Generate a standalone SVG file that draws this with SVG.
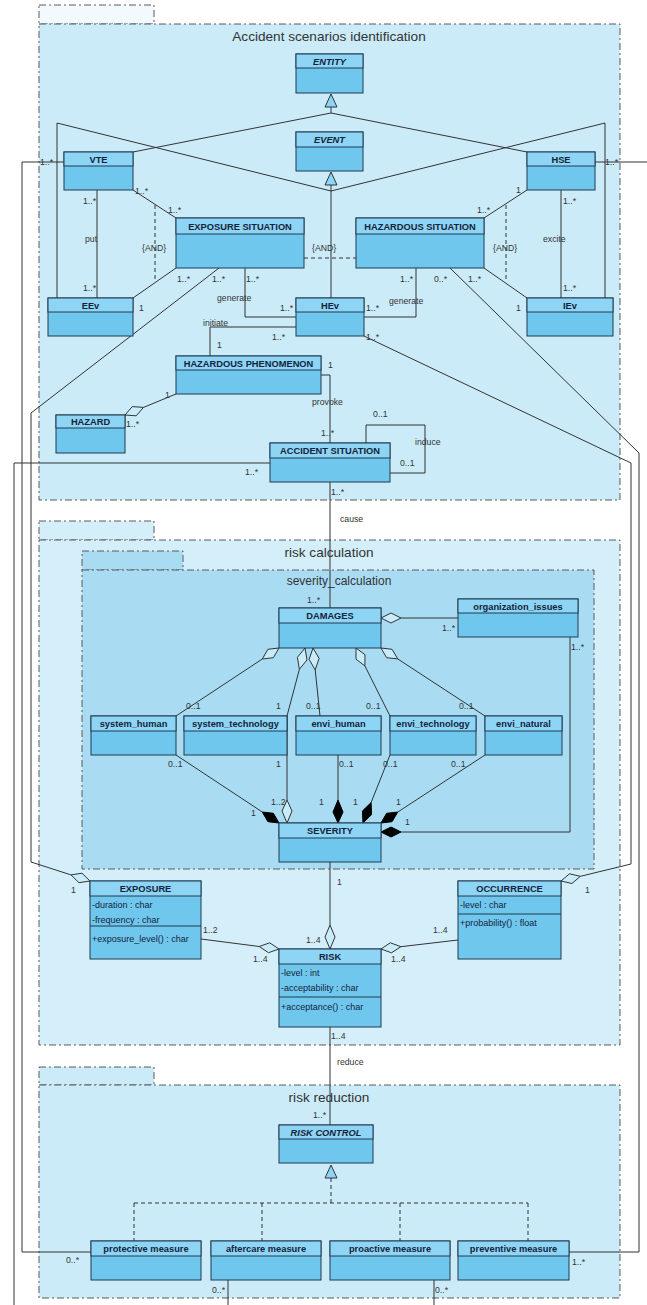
<svg xmlns="http://www.w3.org/2000/svg" width="647" height="1305" viewBox="0 0 647 1305">
<style>
.pk{fill:#cbebf9;stroke:#5a5a5a;stroke-width:1;stroke-dasharray:7,3,2,3}
.pk2{fill:#d4effa;stroke:#5a5a5a;stroke-width:1;stroke-dasharray:7,3,2,3}
.pki{fill:#a9dcf3;stroke:#5a5a5a;stroke-width:1;stroke-dasharray:7,3,2,3}
.pt{font-family:'Liberation Sans',Arial,sans-serif;font-size:13.6px;fill:#333;text-anchor:middle}
.b{fill:#70c7ee;stroke:#1f3a50;stroke-width:1}
.h{fill:#8ed5f5;stroke:#1f3a50;stroke-width:1}
.n{font-family:'Liberation Sans',Arial,sans-serif;font-size:9.3px;font-weight:bold;fill:#14233a;text-anchor:middle}
.ni{font-family:'Liberation Sans',Arial,sans-serif;font-size:9.3px;font-weight:bold;font-style:italic;fill:#14233a;text-anchor:middle}
.a{font-family:'Liberation Sans',Arial,sans-serif;font-size:9px;fill:#14233a}
.l{font-family:'Liberation Sans',Arial,sans-serif;font-size:8.7px;fill:#333}
.c{fill:none;stroke:#333;stroke-width:1}
.d{fill:none;stroke:#333;stroke-width:1;stroke-dasharray:4,3}
.hd{fill:#c8ecfa;stroke:#333;stroke-width:1}
.fd{fill:#000;stroke:#000;stroke-width:1}
.tri{fill:#8ed5f5;stroke:#333;stroke-width:1}
</style>

<g id="packages">
<rect class="pk" x="39" y="5" width="115" height="19" style="fill:#f3fafd"/>
<rect class="pk" x="39" y="24" width="581" height="476"/>
<text class="pt" x="329" y="41">Accident scenarios identification</text>
<rect class="pk2" x="39" y="521" width="115" height="19"/>
<rect class="pk2" x="39" y="540" width="581" height="505"/>
<text class="pt" x="329" y="557">risk calculation</text>
<rect class="pki" x="82" y="551" width="101" height="19"/>
<rect class="pki" x="82" y="570" width="512" height="299"/>
<text class="pt" x="339" y="585" style="font-size:12px">severity_calculation</text>
<rect class="pk" x="39" y="1067" width="115" height="18"/>
<rect class="pk" x="39" y="1085" width="581" height="213"/>
<text class="pt" x="329" y="1102">risk reduction</text>
</g>

<g id="connectors">
<polygon class="tri" points="331,94 337,107 325,107"/>
<path class="c" d="M331,107 V113 M133,152 L331,113 L527,152"/>
<polygon class="tri" points="331,172 337,185 325,185"/>
<path class="c" d="M331,185 V298 M57,298 V123 L331,191 L605,123 V298"/>
<path class="c" d="M97,190 V298 M561,190 V298 M133,190 L176,218 M527,190 L484,218 M176,268 L133,298 M484,268 L527,298"/>
<path class="c" d="M219,268 L31,413 V862 L71,874.9"/>
<path class="c" d="M245,268 V317 H296 M416,268 V317 H364 M296,327 H210 V356"/>
<path class="c" d="M176,394 L143.5,407.4 M321,375 H330 V443 M366,443 V425 H425 V473 H390 M330,482 V608"/>
<path class="c" d="M270,463 H14 V1305 M64,162 H22 V1252 H91 M595,162 H647"/>
<path class="c" d="M364,336 L631,463 V864 L580.4,876.3 M450,268 L639,453 V1252 H569"/>
<path class="d" d="M155,205 V282 M506,205 V282 M304,258 H356"/>
<polygon class="hd" points="125,415 136.2,415.8 143.5,407.4 132.3,406.6"/>
<path class="c" d="M458,618 H401 M570,637 V832 H401"/>
<polygon class="hd" points="381,618 391,613 401,618 391,623"/>
<polygon class="hd" points="279,648 273.4,657.7 262.3,659 267.9,649.3"/>
<polygon class="hd" points="305,648 307,659.9 299.4,669.3 297.4,657.3"/>
<polygon class="hd" points="313,648 319.1,658.4 315.2,669.9 309.1,659.4"/>
<polygon class="hd" points="356,648 365,654.7 364.9,665.9 356,659.2"/>
<polygon class="hd" points="381,648 392.1,649.3 397.7,658.9 386.6,657.7"/>
<path class="c" d="M262.3,659 L176,716 M299.4,669.3 L287,716 V800 M315.2,669.9 L320,716 M364.9,665.9 L390,716 M397.7,658.9 L485,716"/>
<path class="c" d="M176,755 L262.3,812 M338,755 V800 M390,755 L371.1,802.6 M485,755 L397.7,812.1"/>
<polygon class="fd" points="279,823 273.4,813.3 262.3,812 267.9,821.7"/>
<polygon class="hd" points="287,823 292,811 287,800 282,811"/>
<polygon class="fd" points="338,823 343,812 338,800 333,812"/>
<polygon class="fd" points="363,823 371.6,814.6 371.1,802.6 362.4,811"/>
<polygon class="fd" points="381,823 392.1,821.7 397.7,812.1 386.6,813.3"/>
<polygon class="fd" points="381,832 391,827 401,832 391,837"/>
<path class="c" d="M330,862 V925 M201,939 L259.2,946.5 M458,940 L400.9,946.7 M330,1027 V1125"/>
<polygon class="hd" points="330,949 335,937 330,925 325,937"/>
<polygon class="hd" points="279,949 269.7,942.8 259.2,946.5 268.5,952.7"/>
<polygon class="hd" points="381,949 391.5,952.8 400.9,946.7 390.3,942.8"/>
<polygon class="hd" points="90,881 82,873.2 71,874.9 79,882.7"/>
<polygon class="hd" points="561,881 571.9,883.5 580.4,876.3 569.5,873.8"/>
<polygon class="tri" points="331,1165 337,1178 325,1178"/>
<path class="d" d="M331,1178 V1203 M134,1203 H528 M134,1203 V1241 M262,1203 V1241 M400,1203 V1241 M528,1203 V1241"/>
<path class="c" d="M228,1280 V1305 M434,1280 V1305"/>
</g>

<g id="labels">
<text class="l" x="40" y="165">1..*</text>
<text class="l" x="83" y="204">1..*</text>
<text class="l" x="135" y="194">1..*</text>
<text class="l" x="168" y="213">1..*</text>
<text class="l" x="85" y="242">put</text>
<text class="l" x="142" y="251">{AND}</text>
<text class="l" x="83" y="291">1..*</text>
<text class="l" x="139" y="311">1</text>
<text class="l" x="177" y="282">1..*</text>
<text class="l" x="212" y="282">1..*</text>
<text class="l" x="246" y="282">1..*</text>
<text class="l" x="217" y="301">generate</text>
<text class="l" x="280" y="311">1..*</text>
<text class="l" x="203" y="326">initiate</text>
<text class="l" x="272" y="340">1..*</text>
<text class="l" x="217" y="348">1</text>
<text class="l" x="312" y="251">{AND}</text>
<text class="l" x="328" y="368">1</text>
<text class="l" x="165" y="398">1</text>
<text class="l" x="126" y="427">1..*</text>
<text class="l" x="312" y="405">provoke</text>
<text class="l" x="321" y="436">1..*</text>
<text class="l" x="373" y="417">0..1</text>
<text class="l" x="415" y="445">induce</text>
<text class="l" x="400" y="466">0..1</text>
<text class="l" x="245" y="475">1..*</text>
<text class="l" x="331" y="495">1..*</text>
<text class="l" x="340" y="522">cause</text>
<text class="l" x="307" y="603">1..*</text>
<text class="l" x="477" y="213">1..*</text>
<text class="l" x="516" y="193">1</text>
<text class="l" x="605" y="165">1..*</text>
<text class="l" x="563" y="204">1..*</text>
<text class="l" x="543" y="242">excite</text>
<text class="l" x="493" y="251">{AND}</text>
<text class="l" x="563" y="291">1..*</text>
<text class="l" x="516" y="311">1</text>
<text class="l" x="400" y="282">1..*</text>
<text class="l" x="434" y="282">0..*</text>
<text class="l" x="468" y="282">1..*</text>
<text class="l" x="366" y="311">1..*</text>
<text class="l" x="389" y="304">generate</text>
<text class="l" x="366" y="340">1..*</text>
<text class="l" x="442" y="631">1..*</text>
<text class="l" x="571" y="650">1..*</text>
<text class="l" x="186" y="709">0..1</text>
<text class="l" x="276" y="709">1</text>
<text class="l" x="306" y="709">0..1</text>
<text class="l" x="366" y="709">0..1</text>
<text class="l" x="459" y="709">0..1</text>
<text class="l" x="168" y="767">0..1</text>
<text class="l" x="276" y="767">1</text>
<text class="l" x="339" y="767">0..1</text>
<text class="l" x="383" y="767">0..1</text>
<text class="l" x="451" y="767">0..1</text>
<text class="l" x="251" y="816">1</text>
<text class="l" x="271" y="805">1..2</text>
<text class="l" x="319" y="805">1</text>
<text class="l" x="353" y="805">1</text>
<text class="l" x="396" y="805">1</text>
<text class="l" x="405" y="825">1</text>
<text class="l" x="337" y="885">1</text>
<text class="l" x="71" y="893">1</text>
<text class="l" x="585" y="893">1</text>
<text class="l" x="203" y="933">1..2</text>
<text class="l" x="253" y="962">1..4</text>
<text class="l" x="306" y="943">1..4</text>
<text class="l" x="433" y="933">1..4</text>
<text class="l" x="391" y="962">1..4</text>
<text class="l" x="331" y="1039">1..4</text>
<text class="l" x="337" y="1065">reduce</text>
<text class="l" x="313" y="1118">1..*</text>
<text class="l" x="66" y="1263">0..*</text>
<text class="l" x="212" y="1293">0..*</text>
<text class="l" x="435" y="1293">0..*</text>
<text class="l" x="572" y="1265">1..*</text>
</g>

<g id="entity"><rect class="b" x="296" y="54" width="67" height="39"/><rect class="h" x="296" y="54" width="67" height="14"/><text class="ni" x="329.5" y="64.5">ENTITY</text></g>
<g id="event"><rect class="b" x="296" y="132" width="67" height="39"/><rect class="h" x="296" y="132" width="67" height="15"/><text class="ni" x="329.5" y="143">EVENT</text></g>
<g id="vte"><rect class="b" x="64" y="152" width="69" height="38"/><rect class="h" x="64" y="152" width="69" height="14"/><text class="n" x="98.5" y="162.5">VTE</text></g>
<g id="hse"><rect class="b" x="527" y="152" width="68" height="38"/><rect class="h" x="527" y="152" width="68" height="14"/><text class="n" x="561" y="162.5">HSE</text></g>
<g id="exposure-situation"><rect class="b" x="176" y="218" width="128" height="50"/><rect class="h" x="176" y="218" width="128" height="16"/><text class="n" x="240" y="229.5">EXPOSURE SITUATION</text></g>
<g id="hazardous-situation"><rect class="b" x="356" y="218" width="128" height="50"/><rect class="h" x="356" y="218" width="128" height="16"/><text class="n" x="420" y="229.5">HAZARDOUS SITUATION</text></g>
<g id="eev"><rect class="b" x="48" y="298" width="85" height="38"/><rect class="h" x="48" y="298" width="85" height="14"/><text class="n" x="90.5" y="308.5">EEv</text></g>
<g id="hev"><rect class="b" x="296" y="298" width="68" height="38"/><rect class="h" x="296" y="298" width="68" height="14"/><text class="n" x="330" y="308.5">HEv</text></g>
<g id="iev"><rect class="b" x="527" y="298" width="86" height="38"/><rect class="h" x="527" y="298" width="86" height="14"/><text class="n" x="570" y="308.5">IEv</text></g>
<g id="hazardous-phenomenon"><rect class="b" x="176" y="356" width="145" height="38"/><rect class="h" x="176" y="356" width="145" height="14"/><text class="n" x="248.5" y="366.5">HAZARDOUS PHENOMENON</text></g>
<g id="hazard"><rect class="b" x="56" y="415" width="69" height="38"/><rect class="h" x="56" y="415" width="69" height="13"/><text class="n" x="90.5" y="425">HAZARD</text></g>
<g id="accident-situation"><rect class="b" x="270" y="443" width="120" height="39"/><rect class="h" x="270" y="443" width="120" height="15"/><text class="n" x="330" y="454">ACCIDENT SITUATION</text></g>
<g id="damages"><rect class="b" x="279" y="608" width="102" height="40"/><rect class="h" x="279" y="608" width="102" height="15"/><text class="n" x="330" y="619">DAMAGES</text></g>
<g id="organization-issues"><rect class="b" x="458" y="599" width="120" height="38"/><rect class="h" x="458" y="599" width="120" height="14"/><text class="n" x="518" y="609.5">organization_issues</text></g>
<g id="system-human"><rect class="b" x="91" y="716" width="85" height="39"/><rect class="h" x="91" y="716" width="85" height="15"/><text class="n" x="133.5" y="727">system_human</text></g>
<g id="system-technology"><rect class="b" x="184" y="716" width="103" height="39"/><rect class="h" x="184" y="716" width="103" height="15"/><text class="n" x="235.5" y="727">system_technology</text></g>
<g id="envi-human"><rect class="b" x="296" y="716" width="85" height="39"/><rect class="h" x="296" y="716" width="85" height="15"/><text class="n" x="338.5" y="727">envi_human</text></g>
<g id="envi-technology"><rect class="b" x="390" y="716" width="86" height="39"/><rect class="h" x="390" y="716" width="86" height="15"/><text class="n" x="433" y="727">envi_technology</text></g>
<g id="envi-natural"><rect class="b" x="485" y="716" width="77" height="39"/><rect class="h" x="485" y="716" width="77" height="15"/><text class="n" x="523.5" y="727">envi_natural</text></g>
<g id="severity"><rect class="b" x="279" y="823" width="102" height="39"/><rect class="h" x="279" y="823" width="102" height="15"/><text class="n" x="330" y="834">SEVERITY</text></g>
<g id="exposure"><rect class="b" x="90" y="881" width="111" height="78"/><rect class="h" x="90" y="881" width="111" height="15"/><text class="n" x="145.5" y="892">EXPOSURE</text><text class="a" x="92" y="908">-duration : char</text><text class="a" x="92" y="923">-frequency : char</text><line class="c" x1="90" y1="926" x2="201" y2="926" style="stroke:#1f3a50"/><text class="a" x="92" y="942">+exposure_level() : char</text></g>
<g id="occurrence"><rect class="b" x="458" y="881" width="103" height="78"/><rect class="h" x="458" y="881" width="103" height="15"/><text class="n" x="509.5" y="892">OCCURRENCE</text><text class="a" x="460" y="908">-level : char</text><line class="c" x1="458" y1="914" x2="561" y2="914" style="stroke:#1f3a50"/><text class="a" x="460" y="926">+probability() : float</text></g>
<g id="risk"><rect class="b" x="279" y="949" width="102" height="78"/><rect class="h" x="279" y="949" width="102" height="15"/><text class="n" x="330" y="960">RISK</text><text class="a" x="281" y="976">-level : int</text><text class="a" x="281" y="991">-acceptability : char</text><line class="c" x1="279" y1="997" x2="381" y2="997" style="stroke:#1f3a50"/><text class="a" x="281" y="1010">+acceptance() : char</text></g>
<g id="risk-control"><rect class="b" x="279" y="1125" width="94" height="38"/><rect class="h" x="279" y="1125" width="94" height="14"/><text class="ni" x="326" y="1135.5">RISK CONTROL</text></g>
<g id="protective-measure"><rect class="b" x="91" y="1241" width="110" height="39"/><rect class="h" x="91" y="1241" width="110" height="15"/><text class="n" x="146" y="1252">protective measure</text></g>
<g id="aftercare-measure"><rect class="b" x="211" y="1241" width="110" height="39"/><rect class="h" x="211" y="1241" width="110" height="15"/><text class="n" x="266" y="1252">aftercare measure</text></g>
<g id="proactive-measure"><rect class="b" x="330" y="1241" width="120" height="39"/><rect class="h" x="330" y="1241" width="120" height="15"/><text class="n" x="390" y="1252">proactive measure</text></g>
<g id="preventive-measure"><rect class="b" x="458" y="1241" width="111" height="39"/><rect class="h" x="458" y="1241" width="111" height="15"/><text class="n" x="513.5" y="1252">preventive measure</text></g>
</svg>
